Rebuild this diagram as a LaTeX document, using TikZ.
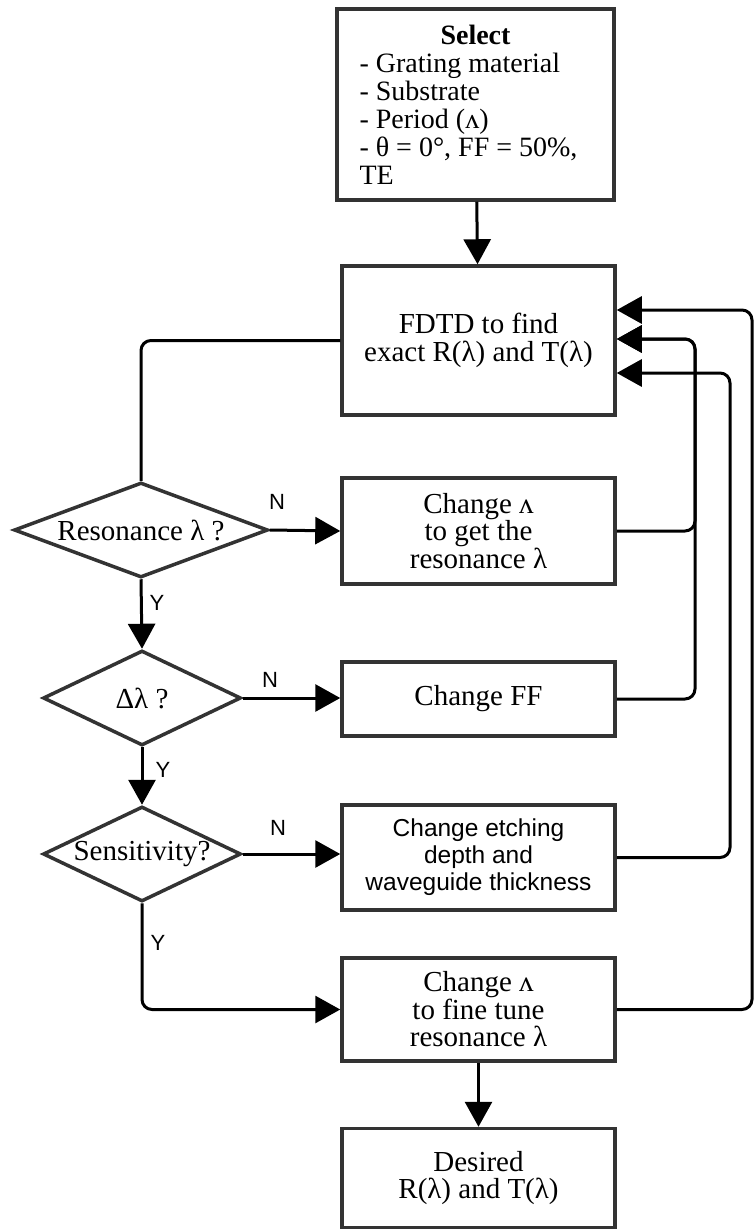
\documentclass[tikz,border=0pt]{standalone}
\usepackage{fontspec}
\setmainfont{Liberation Serif}
\setsansfont{Liberation Sans}
\usetikzlibrary{arrows.meta,shapes.geometric}
\definecolor{bord}{RGB}{51,51,51}
\newcommand\serf{\fontsize{29}{27.5}\selectfont}
\newcommand\self{\fontsize{28}{28}\selectfont}
\newcommand\sanf{\sffamily\fontsize{24.5}{27}\selectfont}
\newcommand\lblf{\sffamily\fontsize{22}{24}\selectfont}
\tikzset{
  box/.style={draw=bord, line width=3.5pt, fill=white, rectangle, inner sep=0pt,
    minimum width=273, align=center, font=\serf},
  dec/.style={draw=bord, line width=3.5pt, fill=white, diamond, inner sep=0pt},
  dtext/.style={font=\serf, inner sep=0pt},
  conn/.style={draw=black, line width=3pt, rounded corners=10pt},
  arr/.style={-{Triangle[length=25pt,width=27pt]}},
  lbl/.style={font=\lblf, inner sep=0pt}
}
\begin{document}
\begin{tikzpicture}[x=1pt,y=-1pt]
\useasboundingbox (0,0) rectangle (754,1230);
\fill[white] (0,0) rectangle (754,1230);

\node[box, minimum width=277, minimum height=191, align=left, font=\self] (sel) at (475.5,104.5)
  {\makebox[232pt][c]{\textbf{Select}}\\- Grating material\\- Substrate\\- Period (ʌ)\\- θ = 0°, FF = 50\%,\\TE};
\node[box, minimum height=149] (fdtd) at (478.5,340.5) {FDTD to find\\exact R(λ) and T(λ)};
\node[box, minimum height=106] (chl) at (478.5,531) {Change ʌ\\to get the\\resonance λ};
\node[box, minimum height=74] (ff) at (478.5,699) {Change FF};
\node[box, minimum height=105, font=\sanf] (etch) at (478.5,857.5) {Change etching\\depth and\\waveguide thickness};
\node[box, minimum height=103] (fine) at (478.5,1009.5) {Change ʌ\\to fine tune\\resonance λ};
\node[box, minimum height=99] (des) at (478.5,1178) {Desired\\R(λ) and T(λ)};

\node[dec, minimum width=254, minimum height=95,
  label={[dtext]center:Resonance λ ?}] (res) at (141,530) {};
\node[dec, minimum width=198, minimum height=95,
  label={[dtext]center:Δλ ?}] (dl) at (142,698) {};
\node[dec, minimum width=198, minimum height=95,
  label={[dtext]center:Sensitivity?}] (sens) at (142,854) {};

\coordinate (c1) at (752,310);
\coordinate (c2) at (695,339);
\coordinate (c3) at (730,373);

\draw[conn, arr] (sel) -- (fdtd);
\draw[conn] (res.north) |- (fdtd.west);
\draw[conn, arr] (res.east) -- (chl.west);
\draw[conn, arr] (res.south) -- (dl.north);
\draw[conn, arr] (dl.east) -- (dl.east -| ff.west);
\draw[conn, arr] (dl.south) -- (sens.north);
\draw[conn, arr] (sens.east) -- (sens.east -| etch.west);
\draw[conn, arr] (sens.south) |- (fine.west);
\draw[conn, arr] (fine) -- (des);

\draw[conn, arr] (chl.east) -| (c2) -- (c2 -| fdtd.east);
\draw[conn, arr] (ff.east) -| (c2) -- (c2 -| fdtd.east);
\draw[conn, arr] (etch.east) -| (c3) -- (c3 -| fdtd.east);
\draw[conn, arr] (fine.east) -| (c1) -- (c1 -| fdtd.east);

\node[lbl] (n1) at (277,502) {N};
\node[lbl] (n2) at (270,680) {N};
\node[lbl] (n3) at (278,828) {N};
\node[lbl] (y1) at (157,603) {Y};
\node[lbl] (y2) at (163,770) {Y};
\node[lbl] (y3) at (158,943) {Y};
\end{tikzpicture}
\end{document}
